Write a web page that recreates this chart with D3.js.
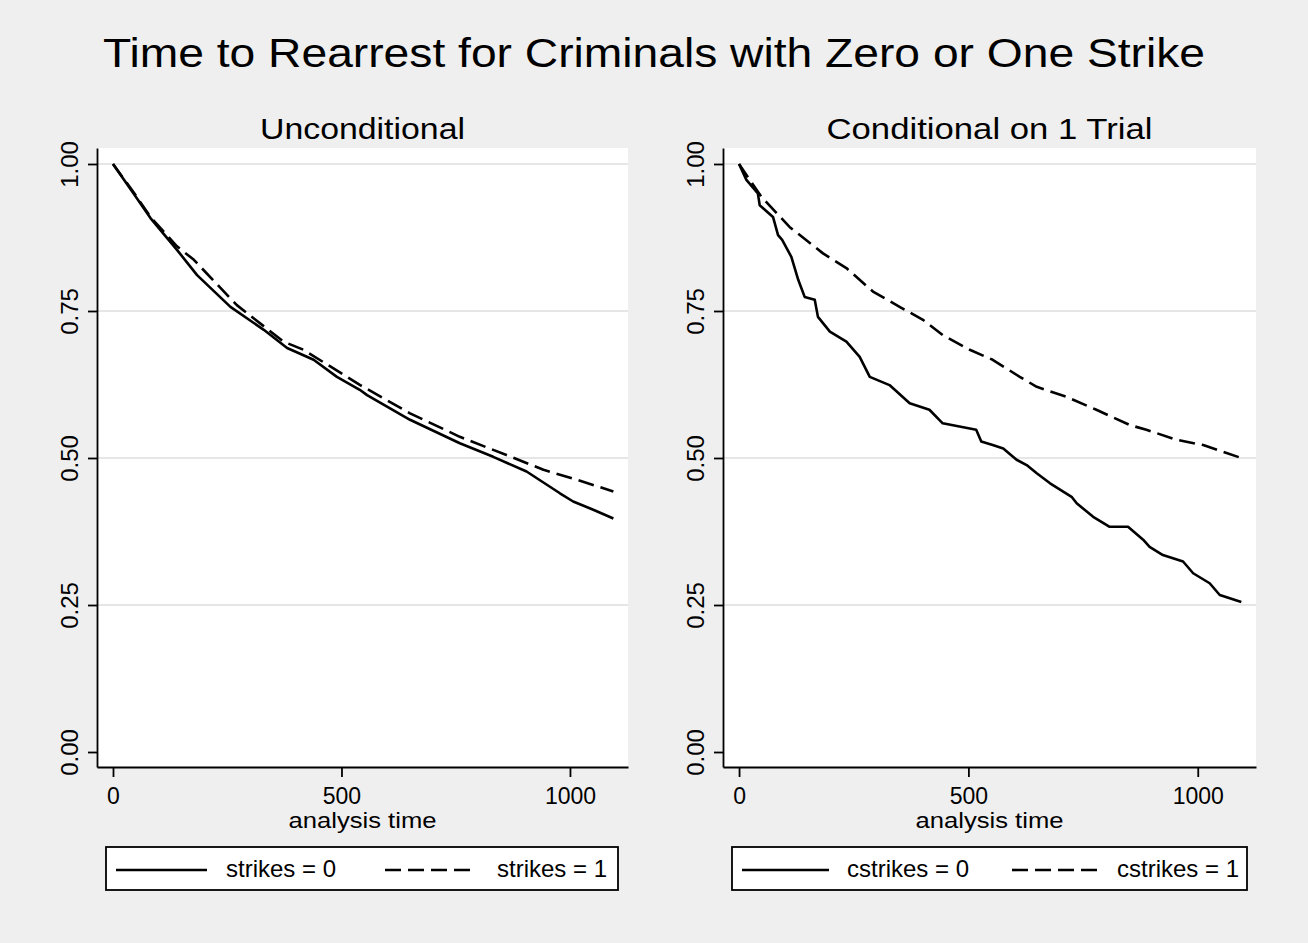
<!DOCTYPE html>
<html>
<head>
<meta charset="utf-8">
<script src="https://cdn.jsdelivr.net/npm/d3@7/dist/d3.min.js"></script>
<style>
  body { margin: 0; background: #efefef; }
  text { font-family: "Liberation Sans", Arial, sans-serif; fill: #000; }
</style>
</head>
<body>
<div id="chart"></div>
<script>
// Kaplan-Meier survival estimates: [analysis time, survival]
const uncondStrikes0 = [[0,1],[45,0.950],[82,0.908],[140,0.854],[184,0.811],[257,0.757],[330,0.718],
  [381,0.687],[439,0.667],[490,0.638],[540,0.616],[556,0.607],[650,0.565],[759,0.525],[832,0.502],
  [905,0.477],[978,0.440],[1007,0.426],[1051,0.412],[1095,0.397]];
const uncondStrikes1 = [[0,1],[45,0.952],[82,0.910],[140,0.860],[177,0.837],[271,0.760],[373,0.698],
  [417,0.684],[541,0.624],[650,0.576],[759,0.536],[861,0.505],[942,0.480],[1015,0.463],[1095,0.443]];
const condStrikes0 = [[0,1],[16,0.973],[41,0.950],[45,0.930],[74,0.910],[85,0.879],[94,0.871],[114,0.842],
  [129,0.803],[143,0.774],[165,0.769],[172,0.740],[198,0.715],[234,0.698],[263,0.672],[285,0.638],
  [328,0.624],[372,0.593],[415,0.582],[444,0.559],[517,0.548],[528,0.528],[553,0.522],[576,0.516],
  [605,0.497],[627,0.488],[649,0.474],[678,0.457],[725,0.434],[736,0.423],[772,0.400],[808,0.383],
  [848,0.383],[881,0.361],[895,0.349],[924,0.335],[968,0.324],[990,0.304],[1026,0.287],[1048,0.267],
  [1095,0.255]];
const condStrikes1 = [[0,1],[24,0.972],[49,0.944],[110,0.893],[183,0.848],[234,0.823],[292,0.783],
  [350,0.757],[401,0.735],[444,0.709],[503,0.684],[553,0.667],[612,0.638],[649,0.621],[714,0.604],
  [779,0.582],[852,0.556],[888,0.548],[954,0.531],[1012,0.522],[1095,0.500]];

const xTicks = [0, 500, 1000];
const yTicks = [0, 0.25, 0.5, 0.75, 1];
const gridTicks = [0.25, 0.5, 0.75, 1];

var width = 1308, height = 943;

const svg = d3.select("#chart").append("svg")
    .attr("width", width)
    .attr("height", height);

svg.append("rect").attr("width", width).attr("height", height).attr("fill", "#efefef");

svg.append("text")
    .attr("x", 654).attr("y", 67)
    .attr("text-anchor", "middle")
    .attr("textLength", 1102).attr("lengthAdjust", "spacingAndGlyphs")
    .style("font-size", "41px")
    .text("Time to Rearrest for Criminals with Zero or One Strike");

const panels = [
  {title: "Unconditional", titleLen: 205, left: 97, right: 628,
   series: [uncondStrikes0, uncondStrikes1], names: ["strikes = 0", "strikes = 1"],
   legend: {x: 106, w: 512, line0: 10, len0: 91, text0: 120, line1: 279, len1: 92, text1: 391}},
  {title: "Conditional on 1 Trial", titleLen: 326, left: 723, right: 1256,
   series: [condStrikes0, condStrikes1], names: ["cstrikes = 0", "cstrikes = 1"],
   legend: {x: 732, w: 515, line0: 10, len0: 87, text0: 115, line1: 280, len1: 88, text1: 385}}
];

const plotTop = 148, plotBottom = 767;
const dashes = [null, "16,7"];

panels.forEach(function (p) {
    let x = d3.scaleLinear().domain([-35, 1127]).range([p.left, p.right]);
    let y = d3.scaleLinear().domain([-0.0255, 1.0272]).range([plotBottom, plotTop]);
    const g = svg.append("g");

    g.append("rect")
        .attr("x", p.left).attr("y", plotTop)
        .attr("width", p.right - p.left).attr("height", plotBottom - plotTop)
        .attr("fill", "#fff");

    // grid lines
    g.append("g").selectAll("line")
        .data(gridTicks)
        .join("line")
        .attr("x1", p.left).attr("x2", p.right)
        .attr("y1", d => y(d)).attr("y2", d => y(d))
        .attr("stroke", "#e6e6e6").attr("stroke-width", 2);

    // survival curves
    let line = d3.line().x(d => x(d[0])).y(d => y(d[1]));
    g.append("g").selectAll("path")
        .data(p.series)
        .join("path")
        .attr("d", d => line(d))
        .attr("fill", "none")
        .attr("stroke", "#000")
        .attr("stroke-width", 2.6)
        .attr("stroke-linejoin", "round")
        .attr("stroke-dasharray", (d, i) => dashes[i]);

    // axes
    let yAxis = g.append("g")
        .attr("transform", `translate(${p.left},0)`)
        .call(d3.axisLeft(y).tickValues(yTicks).tickFormat(d3.format(".2f")).tickSize(9).tickSizeOuter(0));
    yAxis.selectAll(".tick text")
        .attr("transform", "rotate(-90)")
        .attr("x", 0).attr("y", -19).attr("dy", 0)
        .attr("text-anchor", "middle")
        .style("font-size", "24px");

    let xAxis = g.append("g")
        .attr("transform", `translate(0,${plotBottom})`)
        .call(d3.axisBottom(x).tickValues(xTicks).tickFormat(d3.format("d")).tickSize(10).tickSizeOuter(0));
    xAxis.selectAll(".tick text")
        .attr("y", 37).attr("dy", 0)
        .style("font-size", "23px");

    [yAxis, xAxis].forEach(a => {
        a.selectAll("path, line").attr("stroke", "#000").attr("stroke-width", 1.8);
        a.attr("font-family", null).attr("font-size", null);
    });

    g.append("text")
        .attr("x", (p.left + p.right) / 2).attr("y", 828)
        .attr("text-anchor", "middle")
        .attr("textLength", 148).attr("lengthAdjust", "spacingAndGlyphs")
        .style("font-size", "22px")
        .text("analysis time");

    g.append("text")
        .attr("x", (p.left + p.right) / 2).attr("y", 139)
        .attr("text-anchor", "middle")
        .attr("textLength", p.titleLen).attr("lengthAdjust", "spacingAndGlyphs")
        .style("font-size", "29px")
        .text(p.title);

    // legend
    const L = p.legend;
    const lg = g.append("g").attr("transform", `translate(${L.x},847)`);
    lg.append("rect")
        .attr("width", L.w).attr("height", 43)
        .attr("fill", "#fff").attr("stroke", "#000").attr("stroke-width", 1.8);
    [[L.line0, L.len0, L.text0], [L.line1, L.len1, L.text1]].forEach(function (e, i) {
        lg.append("line")
            .attr("x1", e[0]).attr("x2", e[0] + e[1])
            .attr("y1", 23).attr("y2", 23)
            .attr("stroke", "#000").attr("stroke-width", 2.6)
            .attr("stroke-dasharray", dashes[i]);
        lg.append("text")
            .attr("x", e[2]).attr("y", 30)
            .style("font-size", "24px")
            .text(p.names[i]);
    });
});
</script>
</body>
</html>
